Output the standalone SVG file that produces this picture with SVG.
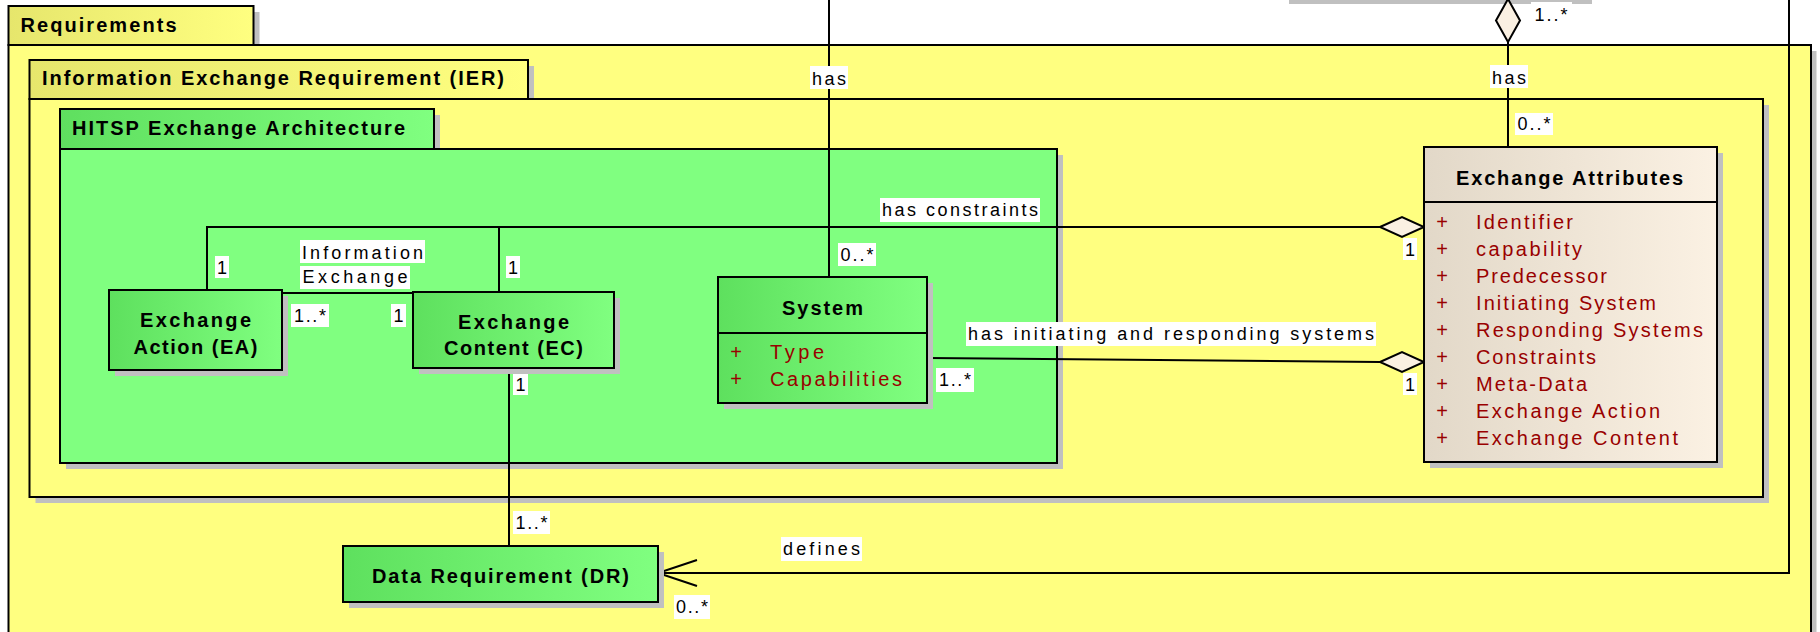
<svg xmlns="http://www.w3.org/2000/svg" width="1820" height="632" viewBox="0 0 1820 632">
  <style>
    text { font-family: "Liberation Sans", Arial, sans-serif; fill: #000; }
    .pkg-title { font-size: 20px; font-weight: bold; }
    .node-title { font-size: 20px; font-weight: bold; text-anchor: middle; }
    .attr { font-size: 20px; fill: #990000; }
    .plus { font-size: 20px; fill: #990000; text-anchor: middle; }
    .lbl { font-size: 18px; text-anchor: middle; }
    .lbl-bg { fill: #ffffff; }
    .frame { stroke: #000; stroke-width: 2; }
    .shadow { fill: #c0c0c0; }
    .edge { fill: none; stroke: #000; stroke-width: 2; }
    .diamond { fill: #faf0e2; stroke: #000; stroke-width: 2; stroke-linejoin: miter; }
  </style>
  <defs>
    <linearGradient id="yellowTab" x1="0" y1="0" x2="1" y2="0">
      <stop offset="0" stop-color="#e6e66c"/>
      <stop offset="1" stop-color="#ffff80"/>
    </linearGradient>
    <linearGradient id="greenTab" x1="0" y1="0" x2="1" y2="0">
      <stop offset="0" stop-color="#5fdf5f"/>
      <stop offset="1" stop-color="#80ff80"/>
    </linearGradient>
    <linearGradient id="greenNode" x1="0" y1="0" x2="1" y2="0">
      <stop offset="0" stop-color="#5ee05e"/>
      <stop offset="1" stop-color="#80ff80"/>
    </linearGradient>
    <linearGradient id="beigeNode" x1="0" y1="0" x2="1" y2="0">
      <stop offset="0" stop-color="#e2d8c8"/>
      <stop offset="1" stop-color="#fbf1e3"/>
    </linearGradient>
  </defs>

  <rect width="1820" height="632" fill="#ffffff"/>

  <!-- shadow of an element sitting above the visible area -->
  <rect class="shadow" x="1289" y="-10" width="303" height="14"/>

  <!-- Requirements package -->
  <g id="pkg-requirements">
    <rect class="shadow" x="14.5" y="12" width="245" height="39"/>
    <rect class="shadow" x="14.5" y="51" width="1802" height="620"/>
    <rect class="frame" x="8.5" y="6" width="245" height="39" fill="url(#yellowTab)"/>
    <rect class="frame" x="8.5" y="45" width="1802.5" height="620" fill="#ffff80"/>
    <text class="pkg-title" x="20.5" y="32" textLength="156" lengthAdjust="spacing">Requirements</text>
  </g>

  <!-- Information Exchange Requirement package -->
  <g id="pkg-ier">
    <rect class="shadow" x="35.5" y="66" width="498.5" height="39"/>
    <rect class="shadow" x="35.5" y="105" width="1733.5" height="398"/>
    <rect class="frame" x="29.5" y="60" width="498.5" height="39" fill="url(#yellowTab)"/>
    <rect class="frame" x="29.5" y="99" width="1733.5" height="398" fill="#ffff80"/>
    <text class="pkg-title" x="42" y="85" textLength="462" lengthAdjust="spacing">Information Exchange Requirement (IER)</text>
  </g>

  <!-- HITSP Exchange Architecture package -->
  <g id="pkg-hitsp">
    <rect class="shadow" x="66" y="115" width="374" height="40"/>
    <rect class="shadow" x="66" y="155" width="997" height="314"/>
    <rect class="frame" x="60" y="109" width="374" height="40" fill="url(#greenTab)"/>
    <rect class="frame" x="60" y="149" width="997" height="314" fill="#80ff80"/>
    <text class="pkg-title" x="72" y="135" textLength="333" lengthAdjust="spacing">HITSP Exchange Architecture</text>
  </g>

  <!-- Connectors -->
  <g id="connectors">
    <!-- System has (from above) -->
    <path class="edge" d="M829,0 V277"/>
    <!-- Exchange Attributes has (aggregation from above) -->
    <path class="edge" d="M1508,42 V147"/>
    <polygon class="diamond" points="1508,-1 1520,20.5 1508,42 1496,20.5"/>
    <!-- defines -->
    <path class="edge" d="M1789,0 V573 H658"/>
    <path class="edge" d="M697,560 L658,573 L697,586"/>
    <!-- has constraints -->
    <path class="edge" d="M207,290 V227 H1380"/>
    <path class="edge" d="M499,292 V227"/>
    <polygon class="diamond" points="1380,227 1402,217 1424,227 1402,237"/>
    <!-- Information Exchange -->
    <path class="edge" d="M282,293 H413"/>
    <!-- has initiating and responding systems -->
    <path class="edge" d="M927,358 L1380,362"/>
    <polygon class="diamond" points="1380,362 1402,352 1424,362 1402,372"/>
    <!-- EC to DR -->
    <path class="edge" d="M509,368 V546"/>

    <!-- labels -->
    <rect class="lbl-bg" x="810" y="66" width="38" height="23"/>
    <text class="lbl" x="829" y="85" textLength="34" lengthAdjust="spacing">has</text>
    <rect class="lbl-bg" x="838" y="243" width="38" height="23"/>
    <text class="lbl" x="857" y="261" textLength="33" lengthAdjust="spacing">0..*</text>

    <rect class="lbl-bg" x="1490" y="65" width="38" height="23"/>
    <text class="lbl" x="1509" y="84" textLength="34" lengthAdjust="spacing">has</text>
    <rect class="lbl-bg" x="1531" y="2" width="41" height="22"/>
    <text class="lbl" x="1551" y="21" textLength="33" lengthAdjust="spacing">1..*</text>
    <rect class="lbl-bg" x="1515" y="113" width="38" height="22"/>
    <text class="lbl" x="1534" y="130" textLength="33" lengthAdjust="spacing">0..*</text>

    <rect class="lbl-bg" x="880" y="198" width="160" height="24"/>
    <text class="lbl" x="960" y="216" textLength="156" lengthAdjust="spacing">has constraints</text>
    <rect class="lbl-bg" x="215" y="256" width="14" height="22"/>
    <text class="lbl" x="222" y="274">1</text>
    <rect class="lbl-bg" x="506" y="256" width="14" height="22"/>
    <text class="lbl" x="513" y="274">1</text>
    <rect class="lbl-bg" x="1403" y="238" width="14" height="22"/>
    <text class="lbl" x="1410" y="256">1</text>

    <rect class="lbl-bg" x="300" y="240" width="125" height="23"/>
    <text class="lbl" x="362.5" y="259" textLength="121" lengthAdjust="spacing">Information</text>
    <rect class="lbl-bg" x="300" y="266" width="110" height="23"/>
    <text class="lbl" x="355" y="283" textLength="105" lengthAdjust="spacing">Exchange</text>
    <rect class="lbl-bg" x="291" y="304" width="38" height="23"/>
    <text class="lbl" x="310" y="322" textLength="32" lengthAdjust="spacing">1..*</text>
    <rect class="lbl-bg" x="391" y="304" width="15" height="23"/>
    <text class="lbl" x="398.5" y="322">1</text>

    <rect class="lbl-bg" x="966" y="322" width="410" height="24"/>
    <text class="lbl" x="1171" y="340" textLength="406" lengthAdjust="spacing">has initiating and responding systems</text>
    <rect class="lbl-bg" x="936" y="368" width="38" height="24"/>
    <text class="lbl" x="955" y="386" textLength="32" lengthAdjust="spacing">1..*</text>
    <rect class="lbl-bg" x="1403" y="373" width="14" height="22"/>
    <text class="lbl" x="1410" y="391">1</text>

    <rect class="lbl-bg" x="513" y="373" width="15" height="22"/>
    <text class="lbl" x="520.5" y="391">1</text>
    <rect class="lbl-bg" x="513" y="511" width="37" height="23"/>
    <text class="lbl" x="531.5" y="529" textLength="32" lengthAdjust="spacing">1..*</text>

    <rect class="lbl-bg" x="781" y="537" width="81" height="24"/>
    <text class="lbl" x="821.5" y="555" textLength="77" lengthAdjust="spacing">defines</text>
    <rect class="lbl-bg" x="674" y="595" width="36" height="24"/>
    <text class="lbl" x="692" y="613" textLength="32" lengthAdjust="spacing">0..*</text>
  </g>

  <!-- Exchange Action (EA) -->
  <g id="node-ea">
    <rect class="shadow" x="115" y="296" width="173" height="80"/>
    <rect class="frame" x="109" y="290" width="173" height="80" fill="url(#greenNode)"/>
    <text class="node-title" x="195.5" y="327" textLength="111" lengthAdjust="spacing">Exchange</text>
    <text class="node-title" x="195.5" y="354" textLength="124" lengthAdjust="spacing">Action (EA)</text>
  </g>

  <!-- Exchange Content (EC) -->
  <g id="node-ec">
    <rect class="shadow" x="419" y="298" width="201" height="76"/>
    <rect class="frame" x="413" y="292" width="201" height="76" fill="url(#greenNode)"/>
    <text class="node-title" x="513.5" y="329" textLength="111" lengthAdjust="spacing">Exchange</text>
    <text class="node-title" x="513.5" y="355" textLength="139" lengthAdjust="spacing">Content (EC)</text>
  </g>

  <!-- System -->
  <g id="node-system">
    <rect class="shadow" x="724" y="283" width="209" height="126"/>
    <rect class="frame" x="718" y="277" width="209" height="126" fill="url(#greenNode)"/>
    <line class="frame" x1="718" y1="333" x2="927" y2="333"/>
    <text class="node-title" x="822.5" y="315" textLength="81" lengthAdjust="spacing">System</text>
    <text class="plus" x="736" y="359">+</text>
    <text class="attr" x="770" y="359" textLength="54" lengthAdjust="spacing">Type</text>
    <text class="plus" x="736" y="386">+</text>
    <text class="attr" x="770" y="386" textLength="132" lengthAdjust="spacing">Capabilities</text>
  </g>

  <!-- Exchange Attributes -->
  <g id="node-exchange-attributes">
    <rect class="shadow" x="1430" y="153" width="293" height="315"/>
    <rect class="frame" x="1424" y="147" width="293" height="315" fill="url(#beigeNode)"/>
    <line class="frame" x1="1424" y1="202" x2="1717" y2="202"/>
    <text class="node-title" x="1569.5" y="185" textLength="227" lengthAdjust="spacing">Exchange Attributes</text>
    <text class="plus" x="1442" y="229">+</text>
    <text class="attr" x="1476" y="229" textLength="97" lengthAdjust="spacing">Identifier</text>
    <text class="plus" x="1442" y="256">+</text>
    <text class="attr" x="1476" y="256" textLength="106" lengthAdjust="spacing">capability</text>
    <text class="plus" x="1442" y="283">+</text>
    <text class="attr" x="1476" y="283" textLength="131" lengthAdjust="spacing">Predecessor</text>
    <text class="plus" x="1442" y="310">+</text>
    <text class="attr" x="1476" y="310" textLength="180" lengthAdjust="spacing">Initiating System</text>
    <text class="plus" x="1442" y="337">+</text>
    <text class="attr" x="1476" y="337" textLength="227" lengthAdjust="spacing">Responding Systems</text>
    <text class="plus" x="1442" y="364">+</text>
    <text class="attr" x="1476" y="364" textLength="120" lengthAdjust="spacing">Constraints</text>
    <text class="plus" x="1442" y="391">+</text>
    <text class="attr" x="1476" y="391" textLength="111" lengthAdjust="spacing">Meta-Data</text>
    <text class="plus" x="1442" y="418">+</text>
    <text class="attr" x="1476" y="418" textLength="184" lengthAdjust="spacing">Exchange Action</text>
    <text class="plus" x="1442" y="445">+</text>
    <text class="attr" x="1476" y="445" textLength="202" lengthAdjust="spacing">Exchange Content</text>
  </g>

  <!-- Data Requirement (DR) -->
  <g id="node-dr">
    <rect class="shadow" x="349" y="552" width="315" height="56"/>
    <rect class="frame" x="343" y="546" width="315" height="56" fill="url(#greenNode)"/>
    <text class="node-title" x="500.5" y="583" textLength="257" lengthAdjust="spacing">Data Requirement (DR)</text>
  </g>
</svg>
